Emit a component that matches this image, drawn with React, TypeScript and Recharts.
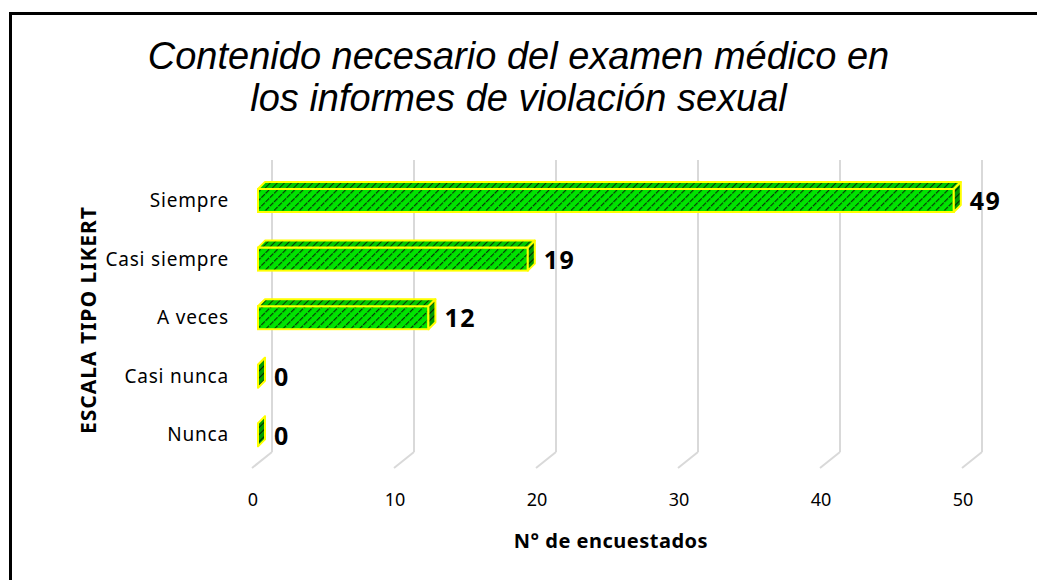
import { BarChart, Bar, XAxis, YAxis, CartesianGrid, LabelList } from 'recharts';

const categories = ['Siempre', 'Casi siempre', 'A veces', 'Casi nunca', 'Nunca'];
const counts = [49, 19, 12, 0, 0];
const xTicks = [0, 10, 20, 30, 40, 50];

const chartData = categories.map((name, i) => ({ name, value: counts[i] }));

// depth of the fake 3D bars and of the back wall
const DX = 7;
const DY = 7;
const WALL_DX = 14;
const WALL_UP = 12;

const Bar3D = (props: any) => {
  const { x, y, width, height } = props;
  const w = Math.max(0, width || 0);
  const stroke = '#ffff00';
  return (
    <g>
      <rect x={x} y={y} width={w} height={height} fill="url(#hatch)" stroke={stroke} strokeWidth={2} />
      <polygon
        points={`${x},${y} ${x + DX},${y - DY} ${x + w + DX},${y - DY} ${x + w},${y}`}
        fill="url(#hatchTop)"
        stroke={stroke}
        strokeWidth={2}
        strokeLinejoin="round"
      />
      <polygon
        points={`${x + w},${y} ${x + w + DX},${y - DY} ${x + w + DX},${y + height - DY} ${x + w},${y + height}`}
        fill="url(#hatchSide)"
        stroke={stroke}
        strokeWidth={2}
        strokeLinejoin="round"
      />
    </g>
  );
};

const GridLine = (props: any) => {
  const { x1, y1, y2 } = props;
  const bx = x1 + WALL_DX;
  return (
    <g key={props.key}>
      <line x1={bx} y1={y1 - 11} x2={bx} y2={y2 - WALL_UP} stroke="#d9d9d9" strokeWidth={2} />
      <line x1={bx} y1={y2 - WALL_UP} x2={x1 - 6} y2={y2 + 4} stroke="#d9d9d9" strokeWidth={2} />
    </g>
  );
};

const XTick = (props: any) => {
  const { x, y, payload } = props;
  return (
    <text x={x - 5} y={y} dy="0.35em" textAnchor="middle" fill="#000" fontSize={18} fontFamily="Noto Sans">
      {payload.value}
    </text>
  );
};

const YTick = (props: any) => {
  const { x, y, payload } = props;
  return (
    <text x={x} y={y} dy="0.35em" textAnchor="end" fill="#000" fontSize={19} letterSpacing={0.8} fontFamily="Noto Sans">
      {payload.value}
    </text>
  );
};

const ValueLabel = (props: any) => {
  const { x, y, width, height, value } = props;
  return (
    <text
      x={x + Math.max(0, width) + DX + 9}
      y={y + height / 2 + 1}
      dy="0.35em"
      fill="#000"
      fontSize={25}
      fontWeight="bold"
      letterSpacing={1.5}
      fontFamily="Noto Sans"
    >
      {value}
    </text>
  );
};

export default function App() {
  return (
    <div style={{ position: 'absolute', left: 0, top: 0, width: 1037, height: 580, background: '#fff', overflow: 'hidden' }}>
      <svg width={0} height={0} style={{ position: 'absolute' }}>
        <defs>
          <pattern id="hatch" patternUnits="userSpaceOnUse" width={6} height={6} patternTransform="rotate(45)">
            <rect width={6} height={6} fill="#00e400" />
            <line x1={0} y1={0} x2={0} y2={6} stroke="#063806" strokeWidth={2.4} strokeDasharray="3 1" />
          </pattern>
          <pattern id="hatchTop" patternUnits="userSpaceOnUse" width={5} height={5} patternTransform="rotate(45)">
            <rect width={5} height={5} fill="#00c800" />
            <line x1={0} y1={0} x2={0} y2={5} stroke="#063806" strokeWidth={2} />
          </pattern>
          <pattern id="hatchSide" patternUnits="userSpaceOnUse" width={5} height={5} patternTransform="rotate(45)">
            <rect width={5} height={5} fill="#009a00" />
            <line x1={0} y1={0} x2={0} y2={5} stroke="#042404" strokeWidth={2} />
          </pattern>
        </defs>
      </svg>

      <div
        style={{
          position: 'absolute',
          left: 9,
          top: 12,
          width: 1100,
          height: 700,
          borderTop: '3px solid #000',
          borderLeft: '3px solid #000',
        }}
      />

      <div
        style={{
          position: 'absolute',
          left: 0,
          width: 1037,
          top: 35,
          textAlign: 'center',
          fontFamily: 'Liberation Sans',
          fontStyle: 'italic',
          fontSize: 38,
          lineHeight: '42px',
          color: '#000',
        }}
      >
        <div>Contenido necesario del examen médico en</div>
        <div>los informes de violación sexual</div>
      </div>

      <div
        style={{
          position: 'absolute',
          left: 88,
          top: 320,
          transform: 'translate(-50%, -50%) rotate(-90deg)',
          whiteSpace: 'nowrap',
          fontFamily: 'Noto Sans',
          fontWeight: 'bold',
          fontSize: 21,
          letterSpacing: 1,
          color: '#000',
        }}
      >
        ESCALA TIPO LIKERT
      </div>

      <div
        style={{
          position: 'absolute',
          left: 611,
          top: 540,
          transform: 'translate(-50%, -50%)',
          whiteSpace: 'nowrap',
          fontFamily: 'Noto Sans',
          fontWeight: 'bold',
          fontSize: 20,
          letterSpacing: 0.5,
          color: '#000',
        }}
      >
        N° de encuestados
      </div>

      <div style={{ position: 'absolute', left: 0, top: 0 }}>
        <BarChart
          width={1037}
          height={580}
          data={chartData}
          layout="vertical"
          margin={{ top: 171, right: 69, bottom: 76, left: 0 }}
          barSize={23}
        >
          <CartesianGrid horizontal={false} vertical={(p: any) => <GridLine {...p} />} />
          <XAxis
            type="number"
            domain={[0, 50]}
            ticks={xTicks}
            height={40}
            axisLine={false}
            tickLine={false}
            tickSize={0}
            tickMargin={36}
            tick={<XTick />}
            interval={0}
          />
          <YAxis
            type="category"
            dataKey="name"
            width={258}
            axisLine={false}
            tickLine={false}
            tickSize={0}
            tickMargin={29}
            tick={<YTick />}
            interval={0}
          />
          <Bar dataKey="value" shape={<Bar3D />} isAnimationActive={false}>
            <LabelList dataKey="value" content={<ValueLabel />} />
          </Bar>
        </BarChart>
      </div>
    </div>
  );
}
